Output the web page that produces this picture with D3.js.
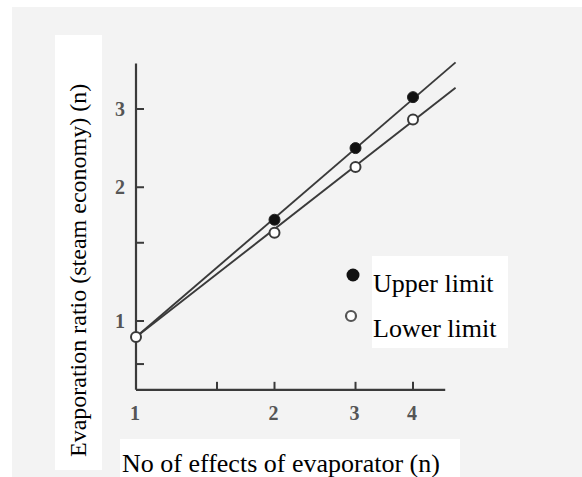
<!DOCTYPE html>
<html><head><meta charset="utf-8">
<script src="https://cdn.jsdelivr.net/npm/d3@7"></script>
<style>html,body{margin:0;padding:0;background:#fff;}svg{display:block;}</style>
</head><body>
<script>
// Data
const effects = [1, 2, 3, 4];
const upperX = [2, 3, 4];
const upperY = [1.69, 2.45, 3.19];
const lowerX = [1, 2, 3, 4];
const lowerY = [0.92, 1.58, 2.22, 2.84];
const upperLineX = [1, 4.95];
const upperLineY = [0.92, 3.82];
const lowerLineX = [1, 4.95];
const lowerLineY = [0.92, 3.35];
const xTicks = [1, 2, 3, 4];
const xMinorTicks = [1.5];
const yTicks = [1, 2, 3];
const yMinorTicks = [0.8, 1.5];
const xAxisExtent = [1, 4.7];
const yAxisExtent = [0.7, 3.8];
const xTitle = "No of effects of evaporator (n)";
const yTitle = "Evaporation ratio (steam economy) (n)";
const legendLabels = ["Upper limit", "Lower limit"];

const W = 582, H = 477;
const svg = d3.select("body").append("svg").attr("width", W).attr("height", H);

// scanned page background
svg.append("rect").attr("x", 0).attr("y", 0).attr("width", W).attr("height", H).attr("fill", "#fff");
svg.append("rect").attr("x", 12).attr("y", 7).attr("width", W - 12).attr("height", H - 7).attr("fill", "#f3f3f3");

const x = d3.scaleLog().domain([1, 4]).range([136, 413]);
const y = d3.scaleLog().domain([1, 3]).range([321, 109]);

const ink = "#3a3a3a";
const g = svg.append("g");

// axes lines
g.append("line").attr("x1", x(xAxisExtent[0])).attr("x2", x(xAxisExtent[1]))
  .attr("y1", y(yAxisExtent[0])).attr("y2", y(yAxisExtent[0]))
  .attr("stroke", ink).attr("stroke-width", 2.2);
g.append("line").attr("x1", x(1)).attr("x2", x(1))
  .attr("y1", y(yAxisExtent[0])).attr("y2", y(yAxisExtent[1]))
  .attr("stroke", ink).attr("stroke-width", 2.2);

// x ticks
g.selectAll(".xt").data(xTicks.slice(1).concat(xMinorTicks)).enter().append("line")
  .attr("x1", d => x(d)).attr("x2", d => x(d))
  .attr("y1", y(yAxisExtent[0])).attr("y2", y(yAxisExtent[0]) - 8)
  .attr("stroke", ink).attr("stroke-width", 2);
g.selectAll(".xl").data(xTicks).enter().append("text")
  .attr("x", d => x(d) - 1).attr("y", y(yAxisExtent[0]) + 30)
  .attr("text-anchor", "middle")
  .attr("font-family", "Liberation Serif, serif").attr("font-size", 20).attr("font-weight", "bold")
  .attr("fill", "#555").text(d => d);

// y ticks
g.selectAll(".yt").data(yTicks.concat(yMinorTicks)).enter().append("line")
  .attr("x1", x(1)).attr("x2", x(1) + 8)
  .attr("y1", d => y(d)).attr("y2", d => y(d))
  .attr("stroke", ink).attr("stroke-width", 2);
g.selectAll(".yl").data(yTicks).enter().append("text")
  .attr("x", x(1) - 16).attr("y", d => y(d) + 7)
  .attr("text-anchor", "middle")
  .attr("font-family", "Liberation Serif, serif").attr("font-size", 20).attr("font-weight", "bold")
  .attr("fill", "#555").text(d => d);

// lines
const line = d3.line().x(d => x(d[0])).y(d => y(d[1]));
g.append("path").datum(d3.zip(upperLineX, upperLineY)).attr("d", line)
  .attr("fill", "none").attr("stroke", ink).attr("stroke-width", 1.9);
g.append("path").datum(d3.zip(lowerLineX, lowerLineY)).attr("d", line)
  .attr("fill", "none").attr("stroke", ink).attr("stroke-width", 1.9);

// points
g.selectAll(".up").data(d3.zip(upperX, upperY)).enter().append("circle")
  .attr("cx", d => x(d[0])).attr("cy", d => y(d[1])).attr("r", 5.5)
  .attr("fill", "#111").attr("stroke", "#222").attr("stroke-width", 1);
g.selectAll(".lo").data(d3.zip(lowerX, lowerY)).enter().append("circle")
  .attr("cx", d => x(d[0])).attr("cy", d => y(d[1])).attr("r", 5)
  .attr("fill", "#fff").attr("stroke", ink).attr("stroke-width", 2);

// legend
svg.append("rect").attr("x", 372).attr("y", 256).attr("width", 136).attr("height", 92).attr("fill", "#fff");
svg.append("circle").attr("cx", 353).attr("cy", 275).attr("r", 6.5).attr("fill", "#111");
svg.append("circle").attr("cx", 351).attr("cy", 316).attr("r", 5).attr("fill", "#fff").attr("stroke", "#555").attr("stroke-width", 2.2);
svg.selectAll(".lg").data(legendLabels).enter().append("text")
  .attr("x", 373).attr("y", (d, i) => 292 + i * 45)
  .attr("font-family", "Liberation Serif, serif").attr("font-size", 26)
  .attr("fill", "#000").text(d => d);

// axis titles with white boxes
svg.append("rect").attr("x", 55).attr("y", 35).attr("width", 47).attr("height", 435).attr("fill", "#fff");
svg.append("text").attr("transform", "translate(86,457) rotate(-90)")
  .attr("font-family", "Liberation Serif, serif").attr("font-size", 24)
  .attr("fill", "#000").text(yTitle);
svg.append("rect").attr("x", 120).attr("y", 439).attr("width", 340).attr("height", 38).attr("fill", "#fff");
svg.append("text").attr("x", 122).attr("y", 472)
  .attr("font-family", "Liberation Serif, serif").attr("font-size", 26)
  .attr("fill", "#000").text(xTitle);
</script>
</body></html>
